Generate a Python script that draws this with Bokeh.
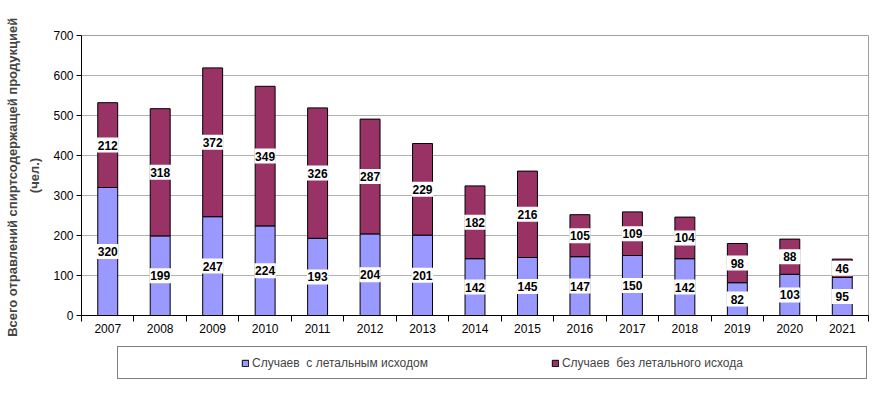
from bokeh.plotting import figure
from bokeh.layouts import column
from bokeh.models import Range1d, FixedTicker, Legend, LegendItem
from bokeh.core.properties import value
from bokeh.embed import file_html
from bokeh.resources import INLINE

years = [2007, 2008, 2009, 2010, 2011, 2012, 2013, 2014, 2015, 2016, 2017, 2018, 2019, 2020, 2021]
lethal = [320, 199, 247, 224, 193, 204, 201, 142, 145, 147, 150, 142, 82, 103, 95]
nonlethal = [212, 318, 372, 349, 326, 287, 229, 182, 216, 105, 109, 104, 98, 88, 46]
y_ticks = [0, 100, 200, 300, 400, 500, 600, 700]
series_names = ["Случаев  с летальным исходом", "Случаев  без летального исхода"]
colors = ["#9999FF", "#993366"]
y_title = "Всего отравлений спиртсодержащей  продукцией\n(чел.)"

FONT = "Liberation Sans"

p = figure(width=890, height=340, output_backend="svg", toolbar_location=None,
           x_range=Range1d(years[0] - 0.5, years[-1] + 0.5), y_range=Range1d(0, 700),
           min_border_left=81, min_border_right=22, min_border_top=35, min_border_bottom=25)
p.background_fill_color = "white"
p.outline_line_color = "#a0a0a0"

data = dict(x=years, lethal=lethal, nonlethal=nonlethal)
bars = p.vbar_stack(["lethal", "nonlethal"], x="x", width=0.38, source=data,
                    fill_color=colors, line_color="black", line_width=1)

bottom_c = [v / 2 for v in lethal]
top_c = [a + b / 2 for a, b in zip(lethal, nonlethal)]
lab_x = years + years
lab_y = bottom_c + top_c
lab_t = [str(v) for v in lethal] + [str(v) for v in nonlethal]
p.rect(x=lab_x, y=lab_y, width=0.41, height=15, height_units="screen",
       fill_color="white", line_color=None)
p.text(x=lab_x, y=lab_y, text=lab_t, text_align="center", text_baseline="middle",
       text_font=value(FONT), text_font_style="bold", text_font_size="12px", text_color="black")

# axes
p.xgrid.visible = False
p.ygrid.grid_line_color = "#b0b0b0"
p.ygrid.ticker = FixedTicker(ticks=y_ticks)

p.yaxis.ticker = FixedTicker(ticks=y_ticks)
p.yaxis.major_tick_in = 0
p.yaxis.major_tick_out = 5
p.yaxis.minor_tick_line_color = None
p.yaxis.axis_line_color = "black"
p.yaxis.major_label_text_font = FONT
p.yaxis.major_label_text_font_size = "12px"
p.yaxis.major_label_text_color = "black"
p.yaxis.major_label_standoff = 3
p.yaxis.axis_label = y_title
p.yaxis.axis_label_text_font = FONT
p.yaxis.axis_label_text_font_style = "bold"
p.yaxis.axis_label_text_font_size = "13px"
p.yaxis.axis_label_text_line_height = 1.5
p.yaxis.axis_label_standoff = 8

p.xaxis.ticker = FixedTicker(ticks=years, minor_ticks=[y - 0.5 for y in years] + [years[-1] + 0.5])
p.xaxis.major_label_overrides = {y: str(y) for y in years}
p.xaxis.major_tick_line_color = None
p.xaxis.minor_tick_in = 0
p.xaxis.minor_tick_out = 6
p.xaxis.minor_tick_line_color = "black"
p.xaxis.axis_line_color = "black"
p.xaxis.major_label_text_font = FONT
p.xaxis.major_label_text_font_size = "12px"
p.xaxis.major_label_text_color = "black"
p.xaxis.major_label_standoff = 2

# legend strip below the chart (its frame aligns with the chart frame)
q = figure(width=890, height=52, output_backend="svg", toolbar_location=None,
           x_axis_location=None, y_axis_location=None,
           x_range=Range1d(0, 1), y_range=Range1d(0, 1),
           min_border_left=81, min_border_right=22, min_border_top=0, min_border_bottom=0)
q.outline_line_color = None
q.xgrid.visible = False
q.ygrid.visible = False
# tiny swatch sources for the legend glyphs, hidden behind the opaque legend box
sw0 = q.vbar(x=[0.5], bottom=[0.5], top=[0.52], width=0.005,
             fill_color=colors[0], line_color="black", line_width=1)
sw1 = q.vbar(x=[0.5], bottom=[0.5], top=[0.52], width=0.005,
             fill_color=colors[1], line_color="black", line_width=1)
ghost = q.scatter(x=[0.5], y=[0.5], size=0, fill_alpha=0, line_alpha=0)
legend_items = [
    LegendItem(label=" ", renderers=[ghost]),
    LegendItem(label=series_names[0], renderers=[sw0]),
    LegendItem(label=" ", renderers=[ghost]),
    LegendItem(label=series_names[1], renderers=[sw1]),
    LegendItem(label=" ", renderers=[ghost]),
]
legend = Legend(items=legend_items, location=(36, 13), orientation="horizontal",
                padding=0, margin=0, spacing=0, glyph_width=8, glyph_height=8,
                label_standoff=3, label_height=31, label_width=112,
                label_text_font=FONT, label_text_font_size="12px",
                border_line_color="black", border_line_width=1,
                background_fill_color="white", background_fill_alpha=1)
q.add_layout(legend, "center")

open("out.html", "w").write(file_html(column(p, q, spacing=0), INLINE))
